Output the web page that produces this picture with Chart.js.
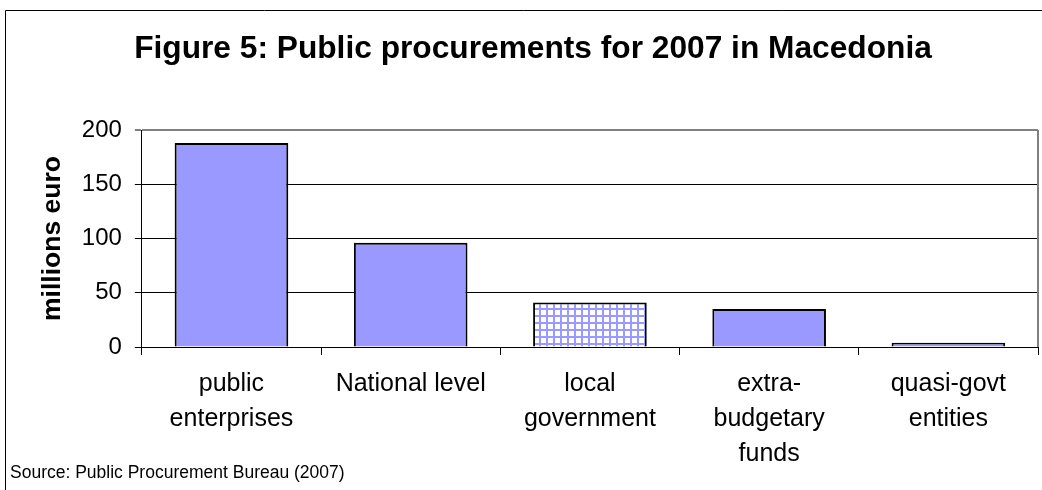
<!DOCTYPE html>
<html>
<head>
<meta charset="utf-8">
<script src="https://cdn.jsdelivr.net/npm/chart.js@4.4.0/dist/chart.umd.min.js"></script>
<style>
html, body { margin: 0; padding: 0; background: #fff; }
</style>
</head>
<body>
<canvas id="myChart" width="1042" height="490"></canvas>
<script>
var categories = [['public', 'enterprises'], ['National level'], ['local', 'government'], ['extra-', 'budgetary', 'funds'], ['quasi-govt', 'entities']];
var values = [188, 96, 41, 35, 4];
var yMin = 0;
var yMax = 200;
var yStep = 50;
var chartTitle = 'Figure 5: Public procurements for 2007 in Macedonia';
var yTitle = 'millions euro';
var sourceNote = 'Source: Public Procurement Bureau (2007)';

var fontName = '"Liberation Sans", Arial, sans-serif';
Chart.defaults.font.family = fontName;
Chart.defaults.color = '#000';

var ctx = document.getElementById('myChart').getContext('2d');

// small lavender grid for the "local government" bar
function gridPattern() {
    var p = document.createElement('canvas');
    p.width = 7;
    p.height = 7;
    var g = p.getContext('2d');
    g.fillStyle = '#fff';
    g.fillRect(0, 0, 7, 7);
    g.fillStyle = '#9999FF';
    g.fillRect(0, 0, 7, 2);
    g.fillRect(0, 0, 2, 7);
    return ctx.createPattern(p, 'repeat');
}

var barFill = '#9999FF';
var fills = [barFill, barFill, gridPattern(), barFill, barFill];

var framePlugin = {
    id: 'frame',
    beforeDraw: function(chart) {
        var c = chart.ctx;
        c.save();
        c.fillStyle = '#fff';
        c.fillRect(0, 0, chart.width, chart.height);
        c.restore();
    },
    afterDraw: function(chart) {
        var c = chart.ctx;
        var a = chart.chartArea;
        c.save();
        c.strokeStyle = '#000';
        c.lineWidth = 1;
        c.beginPath();
        c.moveTo(5.5, chart.height);
        c.lineTo(5.5, 10.5);
        c.lineTo(chart.width, 10.5);
        c.stroke();

        c.strokeStyle = '#808080';
        c.lineWidth = 2;
        c.beginPath();
        c.moveTo(a.right, a.top);
        c.lineTo(a.right, a.bottom);
        c.stroke();

        c.fillStyle = '#000';
        c.textBaseline = 'alphabetic';
        c.textAlign = 'center';
        c.font = 'bold 31.7px ' + fontName;
        c.fillText(chartTitle, 533, 58);

        c.textAlign = 'left';
        c.font = '17.5px ' + fontName;
        c.fillText(sourceNote, 10, 478);
        c.restore();
    }
};

var myChart = new Chart(ctx, {
    type: 'bar',
    data: {
        labels: categories,
        datasets: [{
            data: values,
            backgroundColor: fills,
            borderColor: '#000',
            borderWidth: 2,
            barPercentage: 0.634,
            categoryPercentage: 1
        }]
    },
    options: {
        responsive: false,
        animation: false,
        layout: {
            padding: { top: 130, left: 2, right: 4, bottom: 6 }
        },
        plugins: {
            legend: { display: false },
            tooltip: { enabled: false }
        },
        scales: {
            x: {
                grid: {
                    display: true,
                    drawOnChartArea: false,
                    color: '#000',
                    tickLength: 8
                },
                border: { color: '#000', width: 1 },
                ticks: {
                    font: { size: 25, lineHeight: 1.4 },
                    padding: 12,
                    maxRotation: 0,
                    autoSkip: false
                }
            },
            y: {
                min: yMin,
                max: yMax,
                ticks: {
                    stepSize: yStep,
                    font: { size: 24 },
                    padding: 13
                },
                grid: {
                    color: function(c) { return c.tick && c.tick.value === yMax ? '#808080' : '#000'; },
                    lineWidth: function(c) { return c.tick && c.tick.value === yMax ? 2 : 1; },
                    tickLength: 7
                },
                border: { color: '#000', width: 1 },
                title: {
                    display: true,
                    text: yTitle,
                    font: { size: 26.5, weight: 'bold' },
                    padding: { top: 35, bottom: 0 }
                }
            }
        }
    },
    plugins: [framePlugin]
});
</script>
</body>
</html>
